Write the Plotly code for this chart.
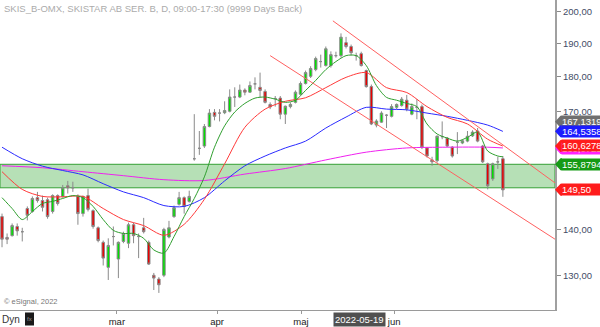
import math
import plotly.graph_objects as go

# ---------------- data ----------------
day = list(range(100))
open_ = [143.1, 138.3, 138.7, 140.8, 139.6, 145.0, 144.3, 147.6, 146.9, 147.1,
         144.3, 148.1, 147.9, 150.5, 150.0, 147.9, 143.8, 148.1, 144.5, 140.5,
         137.2, 131.7, 138.5, 133.5, 137.4, 137.0, 141.2, 138.5, 140.5, 137.2,
         130.0, 129.2, 130.0, 138.4, 143.1, 146.0, 147.6, 146.7, 157.3, 160.0,
         160.6, 165.8, 169.7, 169.5, 169.6, 170.0, 174.0, 174.0, 176.0, 175.4,
         177.8, 176.8, 175.6, 171.9, 173.6, 173.7, 169.2, 171.3, 172.5, 174.8,
         177.9, 180.0, 182.0, 184.4, 183.2, 183.2, 186.2, 186.2, 190.2, 189.0,
         186.2, 186.8, 181.7, 177.0, 166.2, 167.0, 168.9, 168.6, 171.1, 171.6,
         173.1, 169.2, 171.1, 171.3, 160.1, 157.0, 156.8, 163.1, 162.7, 160.3,
         161.6, 161.4, 161.9, 163.3, 164.6, 160.6, 156.0, 152.2, 156.5, 157.3]
high = [143.8, 139.2, 141.5, 141.5, 140.5, 145.5, 147.9, 149.0, 148.1, 147.6,
        148.4, 148.4, 150.7, 151.7, 151.5, 148.4, 148.1, 149.8, 144.8, 140.8,
        137.6, 138.1, 140.8, 137.4, 139.6, 141.7, 141.7, 139.2, 142.8, 137.6,
        130.5, 129.6, 140.5, 142.1, 145.7, 149.0, 147.9, 149.3, 169.2, 164.6,
        166.5, 170.6, 170.6, 170.6, 172.8, 176.2, 176.8, 177.6, 176.5, 178.5,
        179.7, 181.1, 176.2, 172.5, 174.3, 174.3, 171.6, 172.5, 175.9, 178.5,
        181.7, 183.0, 185.9, 186.5, 189.0, 187.5, 187.4, 193.1, 192.0, 189.6,
        187.1, 187.4, 182.0, 177.6, 167.8, 170.0, 169.2, 172.0, 172.2, 174.0,
        174.6, 172.2, 173.4, 171.9, 160.3, 157.8, 163.4, 167.2, 163.0, 160.6,
        164.3, 162.4, 164.6, 164.8, 165.4, 160.9, 156.3, 156.3, 157.8, 158.0]
low = [136.1, 136.8, 138.5, 138.7, 137.4, 142.2, 144.0, 146.4, 144.3, 142.6,
       143.8, 145.7, 147.6, 148.6, 149.0, 141.2, 143.1, 144.3, 140.3, 137.2,
       132.1, 129.0, 136.5, 129.4, 137.0, 135.9, 137.0, 133.7, 139.2, 132.2,
       126.9, 126.3, 129.6, 138.1, 142.8, 145.7, 143.8, 146.4, 156.8, 158.3,
       160.1, 165.6, 167.5, 167.2, 169.2, 169.7, 171.2, 173.7, 174.5, 175.2,
       176.2, 173.9, 172.2, 170.6, 171.3, 167.8, 166.5, 170.8, 172.2, 174.5,
       177.6, 179.5, 181.5, 182.6, 182.9, 182.6, 185.6, 185.6, 188.4, 186.2,
       184.7, 182.9, 176.7, 166.2, 165.6, 166.8, 165.4, 168.3, 170.6, 171.3,
       170.0, 168.9, 167.8, 159.8, 157.6, 155.5, 156.3, 162.4, 160.3, 157.6,
       158.5, 161.1, 161.6, 163.0, 161.6, 156.2, 149.6, 151.7, 154.7, 147.8]
close = [137.9, 137.9, 141.0, 139.8, 139.6, 143.4, 147.4, 146.9, 145.3, 143.1,
         148.1, 146.2, 150.0, 150.0, 150.0, 143.8, 147.9, 144.8, 140.8, 137.6,
         133.7, 136.5, 138.5, 137.2, 139.2, 141.2, 138.7, 138.5, 139.6, 132.4,
         129.4, 128.0, 140.1, 140.5, 145.2, 147.6, 145.5, 147.9, 157.3, 160.0,
         165.8, 169.5, 168.6, 169.5, 170.2, 174.0, 174.0, 176.0, 175.4, 177.3,
         177.8, 175.9, 172.5, 171.2, 173.6, 169.2, 171.4, 171.9, 175.4, 177.9,
         181.1, 182.3, 185.3, 184.4, 188.3, 186.5, 186.2, 191.9, 189.0, 187.1,
         186.2, 183.2, 177.0, 166.5, 167.3, 169.5, 168.9, 171.3, 171.9, 173.4,
         170.6, 171.3, 171.1, 160.3, 158.0, 156.5, 163.2, 163.1, 160.6, 158.0,
         161.6, 162.0, 163.2, 164.3, 161.9, 156.5, 150.5, 156.0, 156.5, 149.5]

ma_fast_day = list(range(0, 100, 2)) + [99]
ma_fast = [147.6, 145.0, 142.4, 144.3, 146.2, 146.7, 147.4, 148.1, 147.6, 145.5,
           142.4, 139.9, 139.2, 139.2, 138.1, 135.5, 134.8, 138.5, 143.1, 147.4,
           152.7, 160.3, 166.0, 169.8, 172.2, 173.7, 174.0, 173.4, 172.5, 173.1,
           175.9, 178.8, 182.0, 184.4, 186.2, 186.2, 183.2, 177.3, 173.9, 173.1,
           172.2, 171.3, 166.5, 163.8, 162.7, 161.9, 162.9, 164.3, 159.3, 158.0,
           157.8]
ma_mid_day = list(range(0, 100, 4)) + [99]
ma_mid = [154.0, 149.6, 147.9, 147.8, 147.9, 145.0, 142.4, 141.0, 138.8, 141.3,
          147.2, 156.0, 165.6, 170.6, 172.8, 173.8, 176.7, 179.7, 181.1, 176.7,
          175.3, 171.3, 168.3, 166.5, 162.4, 160.6]
ma_slow_day = list(range(0, 100, 4)) + [99]
ma_slow = [160.3, 157.3, 155.4, 154.3, 153.2, 151.0, 149.0, 147.6, 145.7, 145.5,
           147.6, 151.7, 155.5, 158.0, 160.1, 161.9, 165.4, 168.4, 171.1, 170.6,
           170.4, 169.5, 168.6, 167.5, 166.2, 164.5]
ma_long_day = list(range(0, 100, 8)) + [99]
ma_long = [155.5, 155.0, 154.0, 153.0, 152.0, 151.8, 153.4, 154.8, 157.0, 159.0,
           160.1, 160.3, 160.3, 160.1]

band_low, band_high = 150.0, 155.8794
chan_upper_day, chan_upper = [65.4, 109.3], [197.1, 151.2]
chan_lower_day, chan_lower = [53.0, 109.3], [186.2, 137.9]

month_pos = [22.7, 42.5, 59.1, 77.5]
month_lbl = ["mar", "apr", "maj", "jun"]
cursor_pos, cursor_lbl = 70.7, "2022-05-19"

price_ticks = [130, 140, 150, 160, 170, 180, 190, 200]
price_lbls = ["130,00", "140,00", "150,00", "160,00", "170,00", "180,00", "190,00", "200,00"]

tag_values = [167.1319, 164.5358, 160.08, 160.6278, 155.8794, 149.50]
tag_texts = ["167,13196", "164,53589", "160,07213", "160,62784", "155,87940", "149,50"]
tag_colors = ["#6f6f6f", "#1c1cff", "#ff22ff", "#ff1c1c", "#159a15", "#ff1c1c"]

x_range = [-0.4, 109.3]
y_lo, y_hi = 122.82, 203.94

# ---------------- figure ----------------
fig = go.Figure()

fig.add_trace(go.Candlestick(
    x=day, open=open_, high=high, low=low, close=close,
    increasing=dict(fillcolor="#00e000", line=dict(color="#8a8a8a", width=1)),
    decreasing=dict(fillcolor="#e80000", line=dict(color="#8a8a8a", width=1)),
    whiskerwidth=0, hoverinfo="skip", showlegend=False))

for xs, ys, col in [(ma_long_day, ma_long, "#f020f0"),
                    (ma_slow_day, ma_slow, "#2b2bff"),
                    (ma_mid_day, ma_mid, "#ff3a3a"),
                    (ma_fast_day, ma_fast, "#2f9f2f")]:
    fig.add_trace(go.Scatter(x=xs, y=ys, mode="lines",
                             line=dict(color=col, width=1, shape="spline", smoothing=0.8),
                             hoverinfo="skip", showlegend=False))

for xs, ys in [(chan_upper_day, chan_upper), (chan_lower_day, chan_lower)]:
    fig.add_trace(go.Scatter(x=xs, y=ys, mode="lines",
                             line=dict(color="#ff6060", width=1),
                             hoverinfo="skip", showlegend=False))

shapes = [dict(type="rect", xref="paper", yref="y", x0=0, x1=1,
               y0=band_low, y1=band_high, fillcolor="#b6e0b6",
               line=dict(color="#35a035", width=1), layer="below")]

lo, hi = math.log10(y_lo), math.log10(y_hi)
annotations = []
for v, t, c in zip(tag_values, tag_texts, tag_colors):
    frac = (math.log10(v) - lo) / (hi - lo)
    # arrow tip of the price tag
    shapes.append(dict(type="path", xref="paper", yref="paper",
                       xsizemode="pixel", ysizemode="pixel",
                       xanchor=1, yanchor=frac,
                       path="M 0,0 L 5.5,6 L 7,6 L 7,-6 L 5.5,-6 Z",
                       fillcolor=c, line=dict(width=0), layer="above"))
    # tag body with its text (drawn in order, so later tags cover earlier ones)
    annotations.append(dict(xref="paper", yref="paper", x=1, y=frac, xshift=5.5,
                            xanchor="left", yanchor="middle", text=t, showarrow=False,
                            width=46, align="left", bgcolor=c, borderpad=0,
                            font=dict(family="Arial", size=9.5, color="white")))

# bottom-left icon box
shapes.append(dict(type="rect", xref="paper", yref="paper",
                   x0=25 / 555, x1=34 / 555, y0=-0.05, y1=-0.008,
                   fillcolor="#1a1a1a", line=dict(width=0)))

annotations += [
    dict(xref="paper", yref="paper", x=0.004, y=0.972, xanchor="left", yanchor="middle",
         text="SKIS_B-OMX, SKISTAR AB SER. B, D, 09:00-17:30 (9999 Days Back)",
         showarrow=False, font=dict(family="Arial", size=9.5, color="#ababab")),
    dict(xref="paper", yref="paper", x=0.004, y=0.029, xanchor="left", yanchor="middle",
         text="© eSignal, 2022", showarrow=False,
         font=dict(family="Arial", size=7.5, color="#777777")),
    dict(xref="paper", yref="paper", x=0, y=-0.032, xanchor="left", yanchor="middle",
         text="Dyn", showarrow=False, font=dict(family="Arial", size=10, color="#333333")),
    dict(xref="paper", yref="paper", x=29.5 / 555, y=-0.03, xanchor="center", yanchor="middle",
         text="fx", showarrow=False, font=dict(family="Arial", size=6, color="#9a9a9a")),
    dict(xref="x", yref="paper", x=cursor_pos, y=-0.032, xanchor="center", yanchor="middle",
         text=cursor_lbl, showarrow=False, bgcolor="#505050", borderpad=1,
         font=dict(family="Arial", size=9.5, color="white")),
]

fig.update_layout(
    width=600, height=327,
    margin=dict(l=0, r=45, t=0, b=15),
    paper_bgcolor="white", plot_bgcolor="white",
    showlegend=False,
    shapes=shapes, annotations=annotations,
    xaxis=dict(range=x_range, rangeslider=dict(visible=False), showgrid=False,
               zeroline=False, showline=True, linecolor="#9a9a9a", linewidth=1,
               ticks="outside", ticklen=3, tickcolor="#9a9a9a",
               tickvals=month_pos, ticktext=month_lbl,
               tickfont=dict(family="Arial", size=9.5, color="#222222")),
    yaxis=dict(type="log", range=[lo, hi], side="right", showgrid=False,
               zeroline=False, showline=True, linecolor="#a0a0a0", linewidth=2,
               ticks="outside", ticklen=4, tickcolor="#8a8a8a",
               tickvals=price_ticks, ticktext=price_lbls,
               tickfont=dict(family="Arial", size=9.5, color="#3f4c66")),
)

fig.write_html("out.html")
